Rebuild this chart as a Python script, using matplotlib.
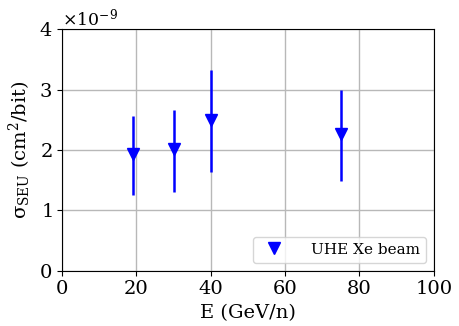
import numpy as np
import matplotlib
matplotlib.use('Agg')
import matplotlib.pyplot as plt

plt.rcParams['font.family'] = 'DejaVu Serif'
plt.rcParams['mathtext.fontset'] = 'dejavuserif'

# 数据：能量 (GeV/n) 与截面 (cm^2/bit)
energy = [19, 30, 40, 75]
sigma = [1.93e-9, 2.02e-9, 2.49e-9, 2.26e-9]
err_low = [0.67e-9, 0.71e-9, 0.86e-9, 0.78e-9]
err_high = [0.63e-9, 0.65e-9, 0.83e-9, 0.74e-9]

fig, ax = plt.subplots(figsize=(4.59, 3.26), dpi=100)

ax.errorbar(energy, sigma, yerr=[err_low, err_high], fmt='none',
            ecolor='blue', elinewidth=1.8, capsize=0)
ax.plot(energy, sigma, 'v', color='blue', markersize=9, linestyle='none',
        label='UHE Xe beam')

ax.set_xlim(0, 100)
ax.set_ylim(0, 4e-9)
ax.set_yticks(np.arange(0, 4.01e-9, 1e-9))
ax.ticklabel_format(axis='y', style='sci', scilimits=(0, 0), useMathText=True)
ax.yaxis.get_offset_text().set_fontsize(12.5)

ax.grid(True, color='#b8b8b8', linewidth=1.0)
ax.set_axisbelow(True)

ax.tick_params(labelsize=14)
ax.set_xlabel('E (GeV/n)', fontsize=14)
ax.set_ylabel('σ$_{\\rm SEU}$ (cm$^2$/bit)', fontsize=14)
ax.legend(loc='lower right', fontsize=11, handletextpad=1.4)

fig.subplots_adjust(left=0.135, right=0.945, top=0.91, bottom=0.17)
fig.savefig('out.png')
